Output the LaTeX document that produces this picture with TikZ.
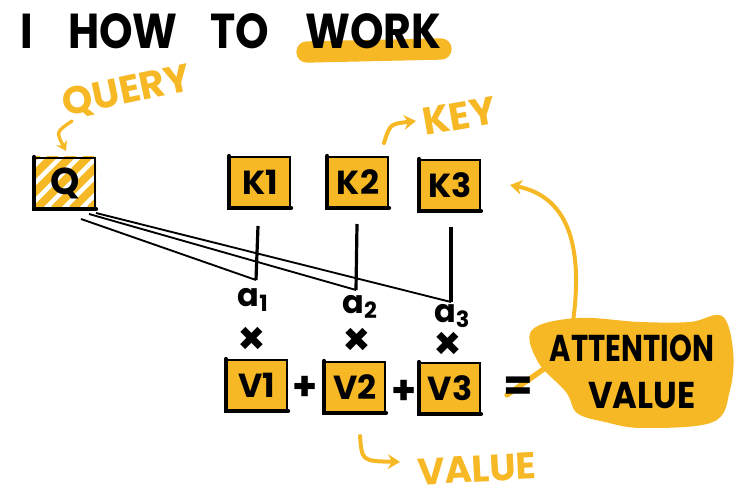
\documentclass[tikz,border=0pt]{standalone}
\usepackage{fontspec}
\setmainfont{Poppins}
\usetikzlibrary{calc,arrows.meta,backgrounds}
\definecolor{yel}{RGB}{246,184,36}
\tikzset{
 box/.style={draw=black, line width=1.5pt, fill=yel, minimum width=45pt, minimum height=37.5pt, inner sep=0pt, font=\bfseries\fontsize{25}{25}\selectfont},
 title/.style={font=\bfseries\fontsize{32}{32}\selectfont, anchor=base west, inner sep=0pt, yscale=1.15},
 ylab/.style={text=yel, font=\bfseries\fontsize{29}{29}\selectfont, inner sep=0pt},
 blk/.style={font=\bfseries\fontsize{24}{24}\selectfont, inner sep=0pt},
 conn/.style={line width=1.4pt},
 vconn/.style={line width=2.4pt},
 yarrow/.style={draw=yel, line width=3pt, line cap=round, -{Stealth[length=9pt,width=11pt]}},
}
\begin{document}
\begin{tikzpicture}[x=0.75pt,y=-0.75pt]
\useasboundingbox (0,0) rectangle (740,498);
% title
\draw[yel, line width=16pt, line cap=round] (307,52) -- (441,49);
\node[title] (t1) at (20,49) {I};
\node[title] (t2) at (68,49) {HOW};
\node[title] (t3) at (210,49) {TO};
\node[title] (t4) at (305,49) {WORK};
% labels
\node[ylab, rotate=12] (query) at (127,92) {QUERY};
\node[ylab, rotate=10] (key) at (459,116) {KEY};
\node[ylab, rotate=3, font=\bfseries\fontsize{28}{28}\selectfont] (value) at (477,469) {VALUE};
\coordinate (qa1) at (72,121);
\coordinate (qa2) at (66,151);
\draw[yarrow, line width=2.5pt, -{Stealth[length=7pt,width=9pt]}] (qa1) .. controls (56,132) .. (qa2);
\coordinate (ka1) at (384,143);
\coordinate (ka2) at (416,121);
\draw[yarrow] (ka1) .. controls (390,124) .. (ka2);
\coordinate (va1) at (360,436);
\coordinate (va2) at (400,462);
\draw[yarrow] (va1) .. controls (362,461) .. (va2);
% boxes
\node[box, fill=none, font=\bfseries\fontsize{28}{28}\selectfont] (q) at (65,183) {Q};
\begin{scope}[on background layer]
\clip (q.south west) rectangle (q.north east);
\foreach \i in {-70,-52,...,70} \draw[yel, line width=6pt] ($(q.south west)+(\i,0)$) -- ++(60,-60);
\end{scope}
\node[box] (k1) at (260,182) {K1};
\node[box] (k2) at (358,182) {K2};
\node[box] (k3) at (450,185) {K3};
\node[box] (v1) at (257,385) {V1};
\node[box] (v2) at (355,387) {V2};
\node[box] (v3) at (450,388) {V3};
\foreach \n in {q,k1,k2,k3,v1,v2,v3}
  \draw[line width=3.2pt, line cap=round] (\n.north west) -- (\n.south west) -- (\n.south east);
% connectors
\coordinate (c1) at (256,280);
\coordinate (c2) at (356,290);
\coordinate (c3) at (451,302);
\draw[conn] ($(q.south east)+(-15,10)$) -- (c1);
\draw[conn] ($(q.south east)+(-7,5)$) -- (c2);
\draw[conn] ($(q.south east)+(0,4)$) -- (c3);
\draw[vconn] ($(k1.south)+(-2,18)$) -- (c1);
\draw[vconn] ($(k2.south)+(-1,16)$) -- (c2);
\draw[vconn] ($(k3.south)+(1,16)$) -- (c3);
% weights
\node[blk] (a1) at (253,300) {a\textsubscript{1}};
\node[blk] (a2) at (360,307) {a\textsubscript{2}};
\node[blk] (a3) at (452,316) {a\textsubscript{3}};
\node[blk, font=\bfseries\fontsize{34}{34}\selectfont] (x1) at (252,341) {×};
\node[blk, font=\bfseries\fontsize{34}{34}\selectfont] (x2) at (357,342) {×};
\node[blk, font=\bfseries\fontsize{34}{34}\selectfont] (x3) at (448,346) {×};
\node[blk, font=\bfseries\fontsize{30}{30}\selectfont] (p1) at (305,388) {+};
\node[blk, font=\bfseries\fontsize{30}{30}\selectfont] (p2) at (404,392) {+};
% attention value
\fill[yel] plot[smooth cycle, tension=0.6] coordinates {(532,330) (577,318) (640,322) (690,322) (722,316) (733,350) (730,390) (713,422) (643,428) (605,422) (577,413) (566,392) (538,362)};
\coordinate (bt) at (573,322);
\coordinate (ae) at (510,185);
\draw[yarrow] (bt) .. controls (584,240) and (565,196) .. (ae);
\coordinate (bl) at (548,366);
\draw[yel, line width=4pt, line cap=round] (507,395) -- (bl);
\node[blk, font=\bfseries\fontsize{32}{32}\selectfont] (eq) at (518,389) {=};
\node[blk, font=\bfseries\fontsize{28}{28}\selectfont, xscale=0.78] (att1) at (632,348) {ATTENTION};
\node[blk, font=\bfseries\fontsize{28}{28}\selectfont, xscale=0.9] (att2) at (642,396) {VALUE};
\end{tikzpicture}
\end{document}
